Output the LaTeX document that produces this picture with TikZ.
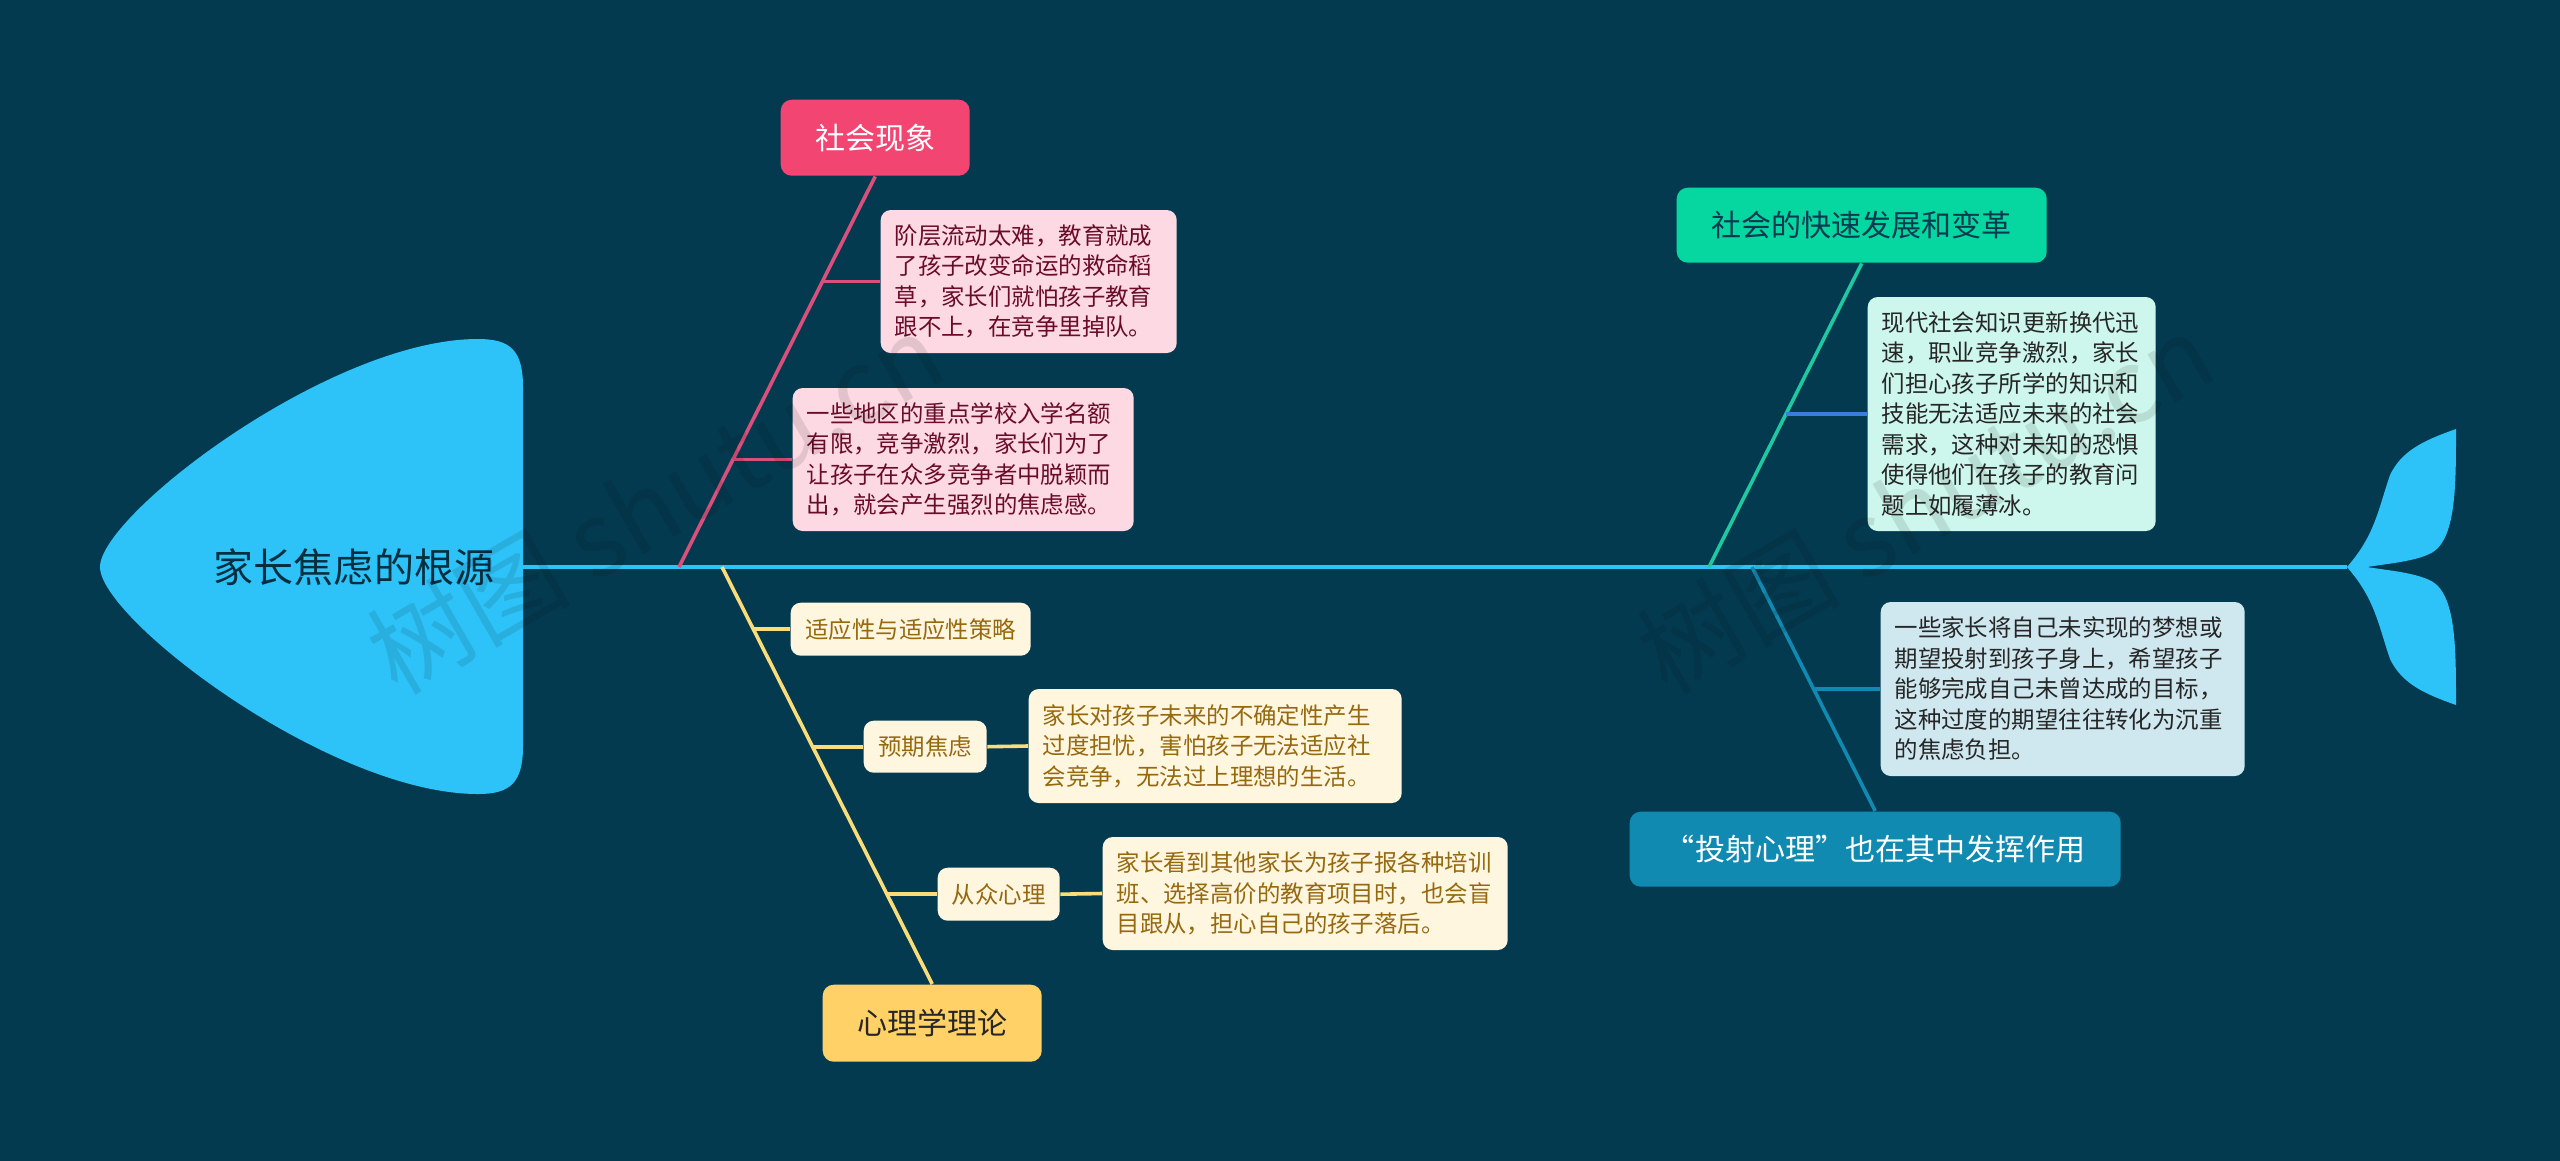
\documentclass[tikz,border=0pt]{standalone}
\usepackage{fontspec}
\setmainfont{Noto Sans CJK SC}
\usetikzlibrary{positioning}
\definecolor{bgdark}{RGB}{4,58,80}
\definecolor{fishblue}{RGB}{45,195,248}
\definecolor{pinkmain}{RGB}{243,69,113}
\definecolor{pinkline}{RGB}{219,80,122}
\definecolor{pinkbox}{RGB}{253,218,227}
\definecolor{pinktext}{RGB}{106,12,40}
\definecolor{yellowmain}{RGB}{255,209,102}
\definecolor{yellowline}{RGB}{250,220,120}
\definecolor{yellowbox}{RGB}{255,246,224}
\definecolor{yellowtext}{RGB}{150,105,15}
\definecolor{greenmain}{RGB}{6,214,160}
\definecolor{greenline}{RGB}{30,200,160}
\definecolor{greenbox}{RGB}{205,247,236}
\definecolor{bluemain}{RGB}{17,138,178}
\definecolor{bluebox}{RGB}{207,232,240}
\definecolor{branchblue}{RGB}{58,125,220}
\tikzset{
    mainbox/.style={rounded corners=1.1mm,font=\fontsize{8.54}{10}\selectfont,inner sep=0pt,anchor=north west},
    textbox/.style={rounded corners=1mm,font=\fontsize{6.66}{8.67}\selectfont,inner xsep=0.14cm,inner ysep=0pt,anchor=west,align=left},
    tagbox/.style={rounded corners=1mm,font=\fontsize{6.66}{8.67}\selectfont,fill=yellowbox,text=yellowtext,inner sep=0pt,anchor=north west},
    bone/.style={line width=0.36mm},
    watermark/.style={rotate=30,opacity=0.1,text=black,font=\fontsize{29}{34}\selectfont}
}
\begin{document}
\begin{tikzpicture}[x=0.01cm,y=-0.01cm]
    \useasboundingbox (0,0) rectangle (2560,1160);
    \fill[bgdark] (-10,-10) rectangle (2570,1170);

    % fish head and tail
    \fill[fishblue] (523,387) .. controls (523,350) and (510,339) .. (478,339)
        .. controls (330,339) and (100,515) .. (100,567)
        .. controls (100,619) and (330,794) .. (478,794)
        .. controls (510,794) and (523,783) .. (523,746) -- cycle;
    \node[font=\fontsize{11.38}{14}\selectfont,text=bgdark!80!black] (head) at (354,567) {家长焦虑的根源};
    \fill[fishblue] (2347,567) .. controls (2375,535) and (2378,510) .. (2390,475)
        .. controls (2402,450) and (2425,440) .. (2456,429)
        .. controls (2456,490) and (2456,545) .. (2427,555)
        .. controls (2410,562) and (2385,564) .. (2367,567)
        .. controls (2385,570) and (2410,572) .. (2427,579)
        .. controls (2456,589) and (2456,644) .. (2456,705)
        .. controls (2425,694) and (2402,684) .. (2390,659)
        .. controls (2378,624) and (2375,599) .. (2347,567) -- cycle;
    \coordinate (spineL) at (523,567);
    \coordinate (spineR) at (2347,567);
    \draw[fishblue,line width=1.15pt] (spineL) -- (spineR);

    % social phenomenon
    \node[mainbox,fill=pinkmain,text=white,minimum width=189*0.01cm,minimum height=76*0.01cm] (social) at (780,99) {社会现象};
    \node[textbox,fill=pinkbox,text=pinktext,text width=268*0.01cm,minimum height=143*0.01cm] (stair) at (880,281.5) {阶层流动太难，教育就成\\了孩子改变命运的救命稻\\草，家长们就怕孩子教育\\跟不上，在竞争里掉队。};
    \node[textbox,fill=pinkbox,text=pinktext,text width=313*0.01cm,minimum height=143*0.01cm] (school) at (792,459.5) {一些地区的重点学校入学名额\\有限，竞争激烈，家长们为了\\让孩子在众多竞争者中脱颖而\\出，就会产生强烈的焦虑感。};
    \coordinate (socialfoot) at (679,567);
    \draw[pinkline,bone] (social.south) -- (socialfoot);
    \draw[pinkline,bone] (stair.west) -- ++(-58,0);
    \draw[pinkline,bone] (school.west) -- ++(-59,0);

    % psychology
    \node[mainbox,fill=yellowmain,text=black!85,minimum width=219*0.01cm,minimum height=77*0.01cm] (psych) at (822,984) {心理学理论};
    \node[tagbox,minimum width=240*0.01cm,minimum height=53*0.01cm] (adapt) at (790,602) {适应性与适应性策略};
    \node[tagbox,minimum width=123*0.01cm,minimum height=52*0.01cm] (expect) at (863,720) {预期焦虑};
    \node[tagbox,minimum width=122*0.01cm,minimum height=53*0.01cm] (herd) at (937,867) {从众心理};
    \node[textbox,fill=yellowbox,text=yellowtext,text width=345*0.01cm,minimum height=114*0.01cm] (expecttext) at (1028,746) {家长对孩子未来的不确定性产生\\过度担忧，害怕孩子无法适应社\\会竞争，无法过上理想的生活。};
    \node[textbox,fill=yellowbox,text=yellowtext,text width=377*0.01cm,minimum height=113*0.01cm] (herdtext) at (1102,893.5) {家长看到其他家长为孩子报各种培训\\班、选择高价的教育项目时，也会盲\\目跟从，担心自己的孩子落后。};
    \coordinate (psychtop) at (722,567);
    \draw[yellowline,bone] (psychtop) -- (psych.north);
    \draw[yellowline,bone] (adapt.west) -- ++(-37,0);
    \draw[yellowline,bone] (expect.west) -- ++(-51,0);
    \draw[yellowline,bone] (expect.east) -- (expecttext.west);
    \draw[yellowline,bone] (herd.west) -- ++(-51,0);
    \draw[yellowline,bone] (herd.east) -- (herdtext.west);

    % rapid change
    \node[mainbox,fill=greenmain,text=bgdark,minimum width=370*0.01cm,minimum height=75*0.01cm] (change) at (1676,187) {社会的快速发展和变革};
    \node[textbox,fill=greenbox,text=black!85,text width=260*0.01cm,minimum height=234*0.01cm] (knowledge) at (1867,414) {现代社会知识更新换代迅\\速，职业竞争激烈，家长\\们担心孩子所学的知识和\\技能无法适应未来的社会\\需求，这种对未知的恐惧\\使得他们在孩子的教育问\\题上如履薄冰。};
    \coordinate (changefoot) at (1709,567);
    \draw[greenline,bone] (change.south) -- (changefoot);
    \draw[branchblue,bone] (knowledge.west) -- ++(-81,0);

    % projection
    \node[mainbox,fill=bluemain,text=white,minimum width=491*0.01cm,minimum height=75*0.01cm] (project) at (1629,811) {“投射心理”也在其中发挥作用};
    \node[textbox,fill=bluebox,text=black!85,text width=336*0.01cm,minimum height=174*0.01cm] (dream) at (1880,689) {一些家长将自己未实现的梦想或\\期望投射到孩子身上，希望孩子\\能够完成自己未曾达成的目标，\\这种过度的期望往往转化为沉重\\的焦虑负担。};
    \coordinate (projecttop) at (1752,567);
    \draw[bluemain,bone] (projecttop) -- (project.north);
    \draw[bluemain,bone] (dream.west) -- ++(-65,0);

    % watermarks
    \node[watermark] (markL) at (655,503) {树图 shutu.cn};
    \node[watermark] (markR) at (1925,503) {树图 shutu.cn};
\end{tikzpicture}
\end{document}
